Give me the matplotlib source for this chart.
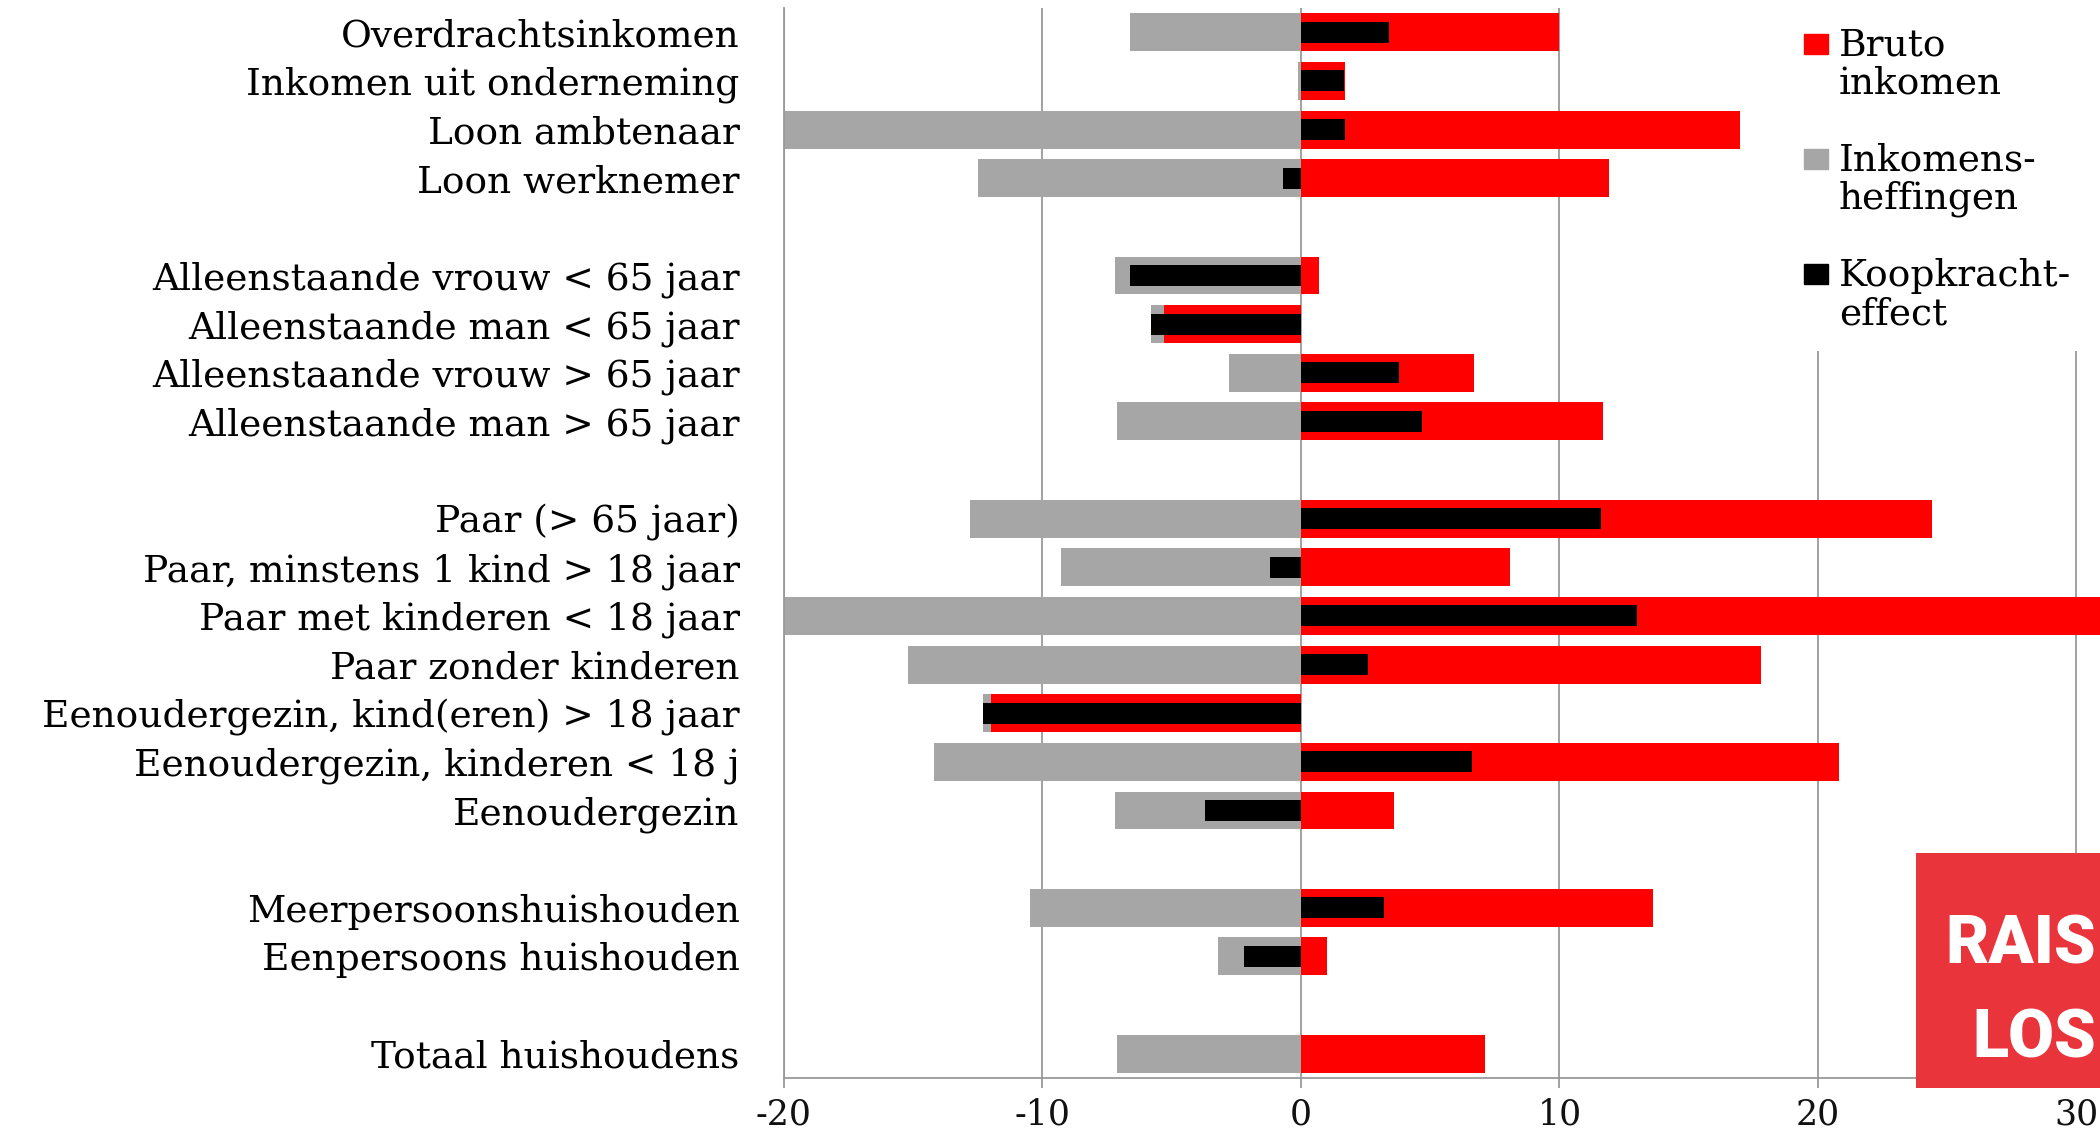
import matplotlib
matplotlib.use("Agg")
import matplotlib.pyplot as plt
from matplotlib.patches import Rectangle, Patch
from matplotlib.legend_handler import HandlerPatch

# ---------------- data ----------------
group_inkomen = ["Overdrachtsinkomen", "Inkomen uit onderneming",
                 "Loon ambtenaar", "Loon werknemer"]
group_alleen = ["Alleenstaande vrouw < 65 jaar", "Alleenstaande man < 65 jaar",
                "Alleenstaande vrouw > 65 jaar", "Alleenstaande man > 65 jaar"]
group_paar = ["Paar (> 65 jaar)", "Paar, minstens 1 kind > 18 jaar",
              "Paar met kinderen < 18 jaar", "Paar zonder kinderen",
              "Eenoudergezin, kind(eren) > 18 jaar",
              "Eenoudergezin, kinderen < 18 j", "Eenoudergezin"]
group_huish = ["Meerpersoonshuishouden", "Eenpersoons huishouden"]
group_totaal = ["Totaal huishoudens"]
groups = [group_inkomen, group_alleen, group_paar, group_huish, group_totaal]

bruto_inkomen = [10.0, 1.7, 17.0, 11.9,
                 0.7, -5.3, 6.7, 11.7,
                 24.4, 8.1, 32.0, 17.8, -12.0, 20.8, 3.6,
                 13.6, 1.0,
                 7.1]
inkomensheffingen = [-6.6, -0.1, -22.0, -12.5,
                     -7.2, -5.8, -2.8, -7.1,
                     -12.8, -9.3, -21.0, -15.2, -12.3, -14.2, -7.2,
                     -10.5, -3.2,
                     -7.1]
koopkrachteffect = [3.4, 1.65, 1.7, -0.7,
                    -6.6, -5.8, 3.8, 4.7,
                    11.6, -1.2, 13.0, 2.6, -12.3, 6.6, -3.7,
                    3.2, -2.2,
                    0.0]

series_labels = ["Bruto\ninkomen", "Inkomens-\nheffingen", "Koopkracht-\neffect"]
x_ticks = [-20, -10, 0, 10, 20, 30]

RED = "#FF0000"
GREY = "#A6A6A6"
BLACK = "#000000"
AXIS_GREY = "#9A9A9A"
SERIF = ["DejaVu Serif"]
FS = 27

# ---------------- layout of category slots ----------------
labels, ypos = [], []
slot = 0
for g in groups:
    for name in g:
        labels.append(name)
        ypos.append(slot)
        slot += 1
    slot += 1
n_slots = slot - 1

W, H = 2100, 1132
fig = plt.figure(figsize=(W / 100, H / 100), dpi=100)
ax_left, ax_bottom = 784 / W, 54 / H
ax = fig.add_axes([ax_left, ax_bottom, 1 - ax_left, 1070 / H])

ax.barh(ypos, inkomensheffingen, height=0.78, color=GREY, zorder=2,
        label=series_labels[1])
ax.barh(ypos, bruto_inkomen, height=0.78, color=RED, zorder=3,
        label=series_labels[0])
ax.barh(ypos, koopkrachteffect, height=0.43, color=BLACK, zorder=4,
        label=series_labels[2])

ax.set_xlim(-20, 30.91)
ax.set_ylim(n_slots - 0.5, -0.5)
ax.set_xticks(x_ticks)
ax.set_xticklabels([str(t) for t in x_ticks], fontsize=25, family=SERIF)
ax.set_yticks(ypos)
ax.set_yticklabels(labels, fontsize=FS, family=SERIF)
ax.tick_params(axis="y", length=0, pad=32)
ax.tick_params(axis="x", length=7, width=1.3, color=AXIS_GREY, pad=7,
               labelcolor="#111111")

ax.set_axisbelow(True)
ax.grid(axis="x", color=AXIS_GREY, linewidth=1.3)
ax.grid(axis="y", visible=False)
for s in ("top", "right"):
    ax.spines[s].set_visible(False)
for s in ("left", "bottom"):
    ax.spines[s].set_color(AXIS_GREY)
    ax.spines[s].set_linewidth(1.3)

# white legend background covering the gridlines
ax.add_patch(Rectangle((18.9, 0.6794), 15, 0.4, transform=ax.get_xaxis_transform(),
                       facecolor="white", edgecolor="none", zorder=1))

# legend: square next to the first line of each two-line label
SQ_BOTTOM_PT = 17.9
SQ_HEIGHT_PT = 14.4


def top_square(legend, orig_handle, xdescent, ydescent, width, height, fontsize):
    return Rectangle((-xdescent, -ydescent + SQ_BOTTOM_PT), width, SQ_HEIGHT_PT)


handles = [Patch(color=RED), Patch(color=GREY), Patch(color=BLACK)]
leg = fig.legend(handles, series_labels, loc="upper left",
                 bbox_to_anchor=(1804 / W, 1 - 28 / H), bbox_transform=fig.transFigure,
                 frameon=False, prop={"family": SERIF, "size": FS},
                 handlelength=0.64, handleheight=0.7, handletextpad=0.29,
                 labelspacing=1.1, borderpad=0, borderaxespad=0,
                 handler_map={Patch: HandlerPatch(patch_func=top_square)})
for t in leg.get_texts():
    t.set_linespacing(1.06)

# watermark box
fig.patches.append(Rectangle((1916 / W, 44 / H), 0.2, 235 / H, transform=fig.transFigure,
                             facecolor="#E8343A", edgecolor="none", zorder=5))
wm_font = ["Roboto", "DejaVu Sans"]
fig.text(2096 / W, (H - 963) / H, "RAIS", color="white", fontsize=48,
         fontweight="black", family=wm_font, va="baseline", ha="right", zorder=6)
fig.text(2096 / W, (H - 1058) / H, "LOS", color="white", fontsize=48,
         fontweight="black", family=wm_font, va="baseline", ha="right", zorder=6)

fig.savefig("out.png", dpi=100)
